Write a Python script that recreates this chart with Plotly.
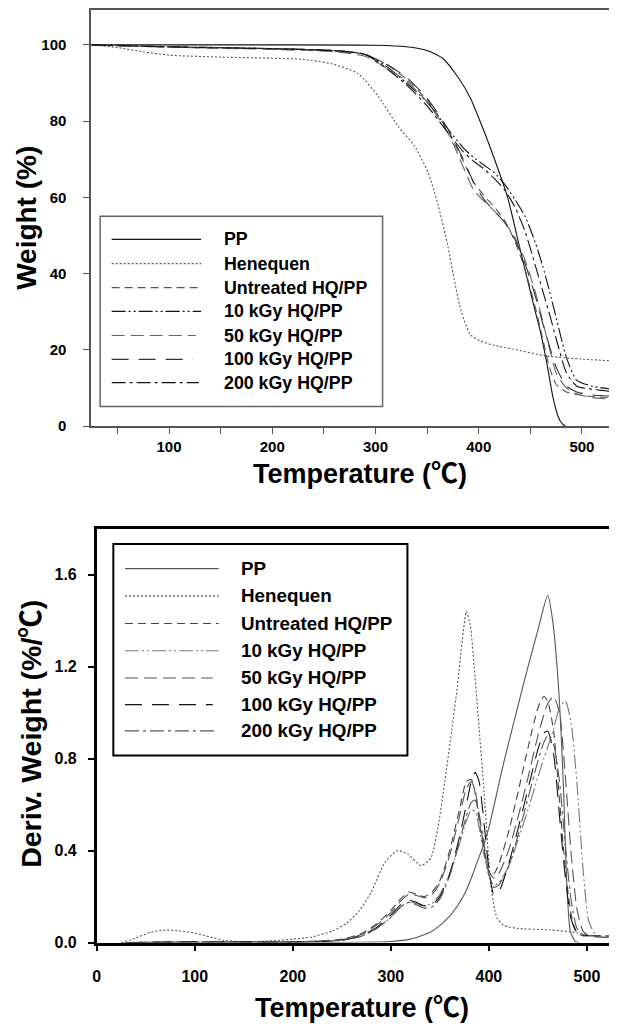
import plotly.graph_objects as go

W_FIG, H_FIG = 617, 1036
PAGE_OFF = 8  # default body margin of the html page

# ---------------- DATA ----------------
series_names = ["PP", "Henequen", "Untreated HQ/PP", "10 kGy HQ/PP",
                "50 kGy HQ/PP", "100 kGy HQ/PP", "200 kGy HQ/PP"]

x_ticks_top = [50, 100, 150, 200, 250, 300, 350, 400, 450, 500]
x_ticklabels_top = ["", "100", "", "200", "", "300", "", "400", "", "500"]
y_ticks_top = [0, 20, 40, 60, 80, 100]

x_ticks_bot = [0, 100, 200, 300, 400, 500]
y_ticks_bot = [0.0, 0.4, 0.8, 1.2, 1.6]
y_ticklabels_bot = ["0.0", "0.4", "0.8", "1.2", "1.6"]

# --- TGA (weight %) ---
pp_tga_T = [25, 100, 200, 300, 330, 350, 365, 380, 392, 402, 414, 428, 440, 453, 460, 466, 472, 477, 481, 484]
pp_tga_W = [100, 100, 100, 99.9, 99.5, 98.5, 96.5, 91.5, 86, 79.5, 71, 60, 46.5, 32, 24.5, 16.5, 7.5, 2.5, 0.6, 0]

hen_tga_T = [25, 50, 75, 100, 150, 200, 230, 258, 283, 303, 322, 338, 351, 360, 370, 376, 383, 392, 402, 415, 434, 466, 500, 545]
hen_tga_W = [100, 99.3, 98.2, 97.3, 96.8, 96.5, 96.2, 95, 92.5, 86.4, 78.6, 73.4, 66.5, 58.7, 47.4, 38.8, 30.1, 24, 22.3, 21.2, 20.2, 18.4, 17.6, 16.9]

comp_tga_T = [25, 100, 200, 260, 290, 310, 330, 350, 370, 385, 395, 405, 415, 425, 435, 445, 455, 462, 468, 475, 485, 495, 510, 545]
untreated_tga_W = [100, 99.4, 99, 98.5, 97.5, 95, 91, 85.5, 77.5, 69.5, 64, 60.5, 57.5, 54, 48.5, 41, 31, 23, 16, 11, 9, 8.3, 7.8, 7.2]
k10_tga_W = [100, 99.5, 99, 98.5, 97.5, 94.5, 90, 85, 78, 73, 70.5, 68.5, 66.5, 63.5, 59.5, 55, 48, 42, 36, 28.5, 18, 12, 10.5, 9.2]
k50_tga_W = [100, 99.4, 98.8, 98.2, 97, 94, 90.5, 85, 77, 68, 62, 59, 56.5, 53.5, 49.5, 43.5, 35, 27.5, 21, 14, 10, 8.5, 7.5, 6.9]
k100_tga_W = [100, 99.5, 99, 98.5, 97.5, 95, 91.5, 86, 78, 70, 64, 59.5, 56.5, 53.5, 49, 42.5, 34, 27, 21.5, 15.5, 10.5, 9, 8.2, 7.7]
k200_tga_W = [100, 99.5, 99, 98.5, 97.5, 94, 89.5, 84, 77, 72, 69.5, 67.5, 65, 62, 57.5, 51, 42, 35.5, 30, 23, 14, 10.5, 9.7, 8.7]

# --- DTG (deriv. weight %/C) ---
pp_dtg_T = [25, 200, 300, 320, 340, 350, 360, 368, 375, 382, 388, 395, 400, 415, 435, 450, 460, 465, 471, 476, 479.5, 483, 488, 492]
pp_dtg_D = [0, 0, 0.005, 0.015, 0.045, 0.075, 0.115, 0.16, 0.21, 0.28, 0.35, 0.43, 0.5, 0.78, 1.12, 1.36, 1.51, 1.40, 1.11, 0.68, 0.25, 0.05, 0.005, 0]

hen_dtg_T = [25, 40, 55, 70, 85, 100, 115, 130, 150, 180, 200, 220, 240, 255, 268, 280, 294, 307, 317, 331, 341, 348, 355, 362, 368, 373, 377, 381, 385, 390, 395, 402, 408, 415, 429, 462, 483, 500]
hen_dtg_D = [0, 0.02, 0.045, 0.055, 0.05, 0.042, 0.025, 0.01, 0.004, 0.008, 0.015, 0.025, 0.05, 0.085, 0.14, 0.22, 0.35, 0.40, 0.385, 0.335, 0.37, 0.5, 0.7, 0.92, 1.12, 1.32, 1.44, 1.38, 1.2, 0.93, 0.66, 0.25, 0.11, 0.075, 0.062, 0.055, 0.047, 0.035]

comp_dtg_T = [30, 100, 200, 250, 270, 285, 300, 310, 318, 326, 334, 342, 350, 360, 370, 377, 382, 386, 390, 395, 400, 405, 410, 420, 430, 440, 450, 456, 460, 466, 472, 478, 484, 490, 496, 502, 510, 545]
untreated_dtg_D = [0, 0.005, 0.003, 0.015, 0.04, 0.08, 0.14, 0.19, 0.22, 0.21, 0.2, 0.22, 0.27, 0.40, 0.58, 0.70, 0.71, 0.65, 0.53, 0.40, 0.31, 0.30, 0.34, 0.48, 0.66, 0.85, 1.02, 1.07, 1.05, 0.92, 0.62, 0.32, 0.12, 0.04, 0.03, 0.03, 0.03, 0.028]
k10_dtg_D = [0, 0.003, 0.003, 0.01, 0.03, 0.06, 0.11, 0.155, 0.175, 0.17, 0.16, 0.17, 0.21, 0.30, 0.43, 0.53, 0.575, 0.57, 0.50, 0.38, 0.29, 0.25, 0.26, 0.33, 0.45, 0.58, 0.72, 0.80, 0.85, 0.93, 1.02, 1.05, 0.95, 0.68, 0.32, 0.09, 0.03, 0.02]
k50_dtg_D = [0, 0.003, 0.003, 0.012, 0.035, 0.075, 0.13, 0.18, 0.21, 0.205, 0.195, 0.21, 0.26, 0.38, 0.55, 0.67, 0.70, 0.66, 0.55, 0.41, 0.31, 0.28, 0.30, 0.40, 0.55, 0.72, 0.90, 0.99, 1.04, 1.07, 1.0, 0.72, 0.38, 0.14, 0.05, 0.03, 0.025, 0.022]
k100_dtg_D = [0, 0.004, 0.003, 0.01, 0.03, 0.065, 0.12, 0.165, 0.185, 0.175, 0.16, 0.165, 0.2, 0.30, 0.46, 0.60, 0.70, 0.74, 0.70, 0.52, 0.32, 0.21, 0.22, 0.34, 0.50, 0.67, 0.84, 0.91, 0.92, 0.82, 0.55, 0.28, 0.10, 0.04, 0.03, 0.03, 0.03, 0.03]
k200_dtg_D = [0, 0.003, 0.003, 0.01, 0.028, 0.06, 0.11, 0.155, 0.175, 0.165, 0.15, 0.155, 0.19, 0.29, 0.44, 0.55, 0.61, 0.62, 0.56, 0.43, 0.30, 0.24, 0.25, 0.33, 0.47, 0.63, 0.79, 0.87, 0.90, 0.86, 0.70, 0.42, 0.18, 0.06, 0.035, 0.03, 0.03, 0.02]

# ---------------- STYLES ----------------
dashes = ["solid", "2px,2px", "8px,5px", "14px,3px,2px,3px,2px,3px", "13px,6px", "17px,10px", "14px,4px,3px,4px"]
colors_top = ["#111111", "#555555", "#555555", "#111111", "#666666", "#333333", "#111111"]
colors_bot = ["#555555", "#555555", "#444444", "#777777", "#555555", "#111111", "#555555"]

FONT = "Liberation Sans, Arial, Noto Sans CJK KR, sans-serif"

top_sets = [(pp_tga_T, pp_tga_W), (hen_tga_T, hen_tga_W), (comp_tga_T, untreated_tga_W),
            (comp_tga_T, k10_tga_W), (comp_tga_T, k50_tga_W), (comp_tga_T, k100_tga_W),
            (comp_tga_T, k200_tga_W)]
bot_sets = [(pp_dtg_T, pp_dtg_D), (hen_dtg_T, hen_dtg_D), (comp_dtg_T, untreated_dtg_D),
            (comp_dtg_T, k10_dtg_D), (comp_dtg_T, k50_dtg_D), (comp_dtg_T, k100_dtg_D),
            (comp_dtg_T, k200_dtg_D)]

fig = go.Figure()
for i, (xs, ys) in enumerate(top_sets):
    fig.add_trace(go.Scatter(x=xs, y=ys, mode="lines", name=series_names[i],
                             line=dict(color=colors_top[i], width=1.1, dash=dashes[i],
                                       shape="spline", smoothing=0.6),
                             xaxis="x", yaxis="y", showlegend=False, hoverinfo="skip"))
for i, (xs, ys) in enumerate(bot_sets):
    fig.add_trace(go.Scatter(x=xs, y=ys, mode="lines", name=series_names[i],
                             line=dict(color=colors_bot[i], width=1.1, dash=dashes[i],
                                       shape="spline", smoothing=0.6),
                             xaxis="x2", yaxis="y2", showlegend=False, hoverinfo="skip"))


def px_x(p):
    return (p - PAGE_OFF) / W_FIG


def px_y(p):
    return 1 - (p - PAGE_OFF) / H_FIG


tick_font_top = dict(family=FONT, size=15, color="#000000", weight="bold")
tick_font_bot = dict(family=FONT, size=16, color="#000000", weight="bold")

fig.update_layout(
    width=W_FIG, height=H_FIG,
    margin=dict(l=0, r=0, t=0, b=0),
    paper_bgcolor="white", plot_bgcolor="white",
    xaxis=dict(domain=[px_x(87.7), 1], anchor="y", range=[24.6, 541.7],
               tickmode="array", tickvals=x_ticks_top, ticktext=x_ticklabels_top,
               ticks="outside", ticklen=6, tickwidth=1.3, tickcolor="#555555",
               showline=True, linecolor="#555555", linewidth=1.6, mirror=True,
               showgrid=False, zeroline=False, tickfont=tick_font_top,
               ticklabelstandoff=0),
    yaxis=dict(domain=[px_y(429.3), px_y(8.8)], anchor="x", range=[0, 109.2],
               tickmode="array", tickvals=y_ticks_top,
               ticks="outside", ticklen=6, tickwidth=1.3, tickcolor="#555555",
               showline=True, linecolor="#555555", linewidth=1.6, mirror=False,
               showgrid=False, zeroline=False, tickfont=tick_font_top,
               ticklabelstandoff=14),
    xaxis2=dict(domain=[px_x(93.3), 1], anchor="y2", range=[0, 538.8],
                tickmode="array", tickvals=x_ticks_bot,
                ticks="outside", ticklen=6, tickwidth=1.5, tickcolor="#000000",
                showline=True, linecolor="#000000", linewidth=2.6, mirror=True,
                showgrid=False, zeroline=False, tickfont=tick_font_bot,
                ticklabelstandoff=11),
    yaxis2=dict(domain=[px_y(950.7), px_y(532.7)], anchor="x2", range=[0, 1.8],
                tickmode="array", tickvals=y_ticks_bot, ticktext=y_ticklabels_bot,
                ticks="outside", ticklen=6, tickwidth=1.5, tickcolor="#000000",
                showline=True, linecolor="#000000", linewidth=2.6, mirror=False,
                showgrid=False, zeroline=False, tickfont=tick_font_bot,
                ticklabelstandoff=8),
)

shapes = []
annotations = []

# Axis titles
annotations.append(dict(text="<b>Weight (%)</b>", x=px_x(23), y=px_y(219), xref="paper", yref="paper",
                        textangle=-90, showarrow=False, xanchor="center", yanchor="middle",
                        font=dict(family=FONT, size=28, color="#000000")))
annotations.append(dict(text="<b>Temperature (℃)</b>", x=px_x(358), y=px_y(478), xref="paper", yref="paper",
                        showarrow=False, xanchor="center", yanchor="middle",
                        font=dict(family=FONT, size=27, color="#000000")))
annotations.append(dict(text="<b>Deriv. Weight (%/℃)</b>", x=px_x(27), y=px_y(740), xref="paper", yref="paper",
                        textangle=-90, showarrow=False, xanchor="center", yanchor="middle",
                        font=dict(family=FONT, size=28.5, color="#000000")))
annotations.append(dict(text="<b>Temperature (℃)</b>", x=px_x(360), y=px_y(1017), xref="paper", yref="paper",
                        showarrow=False, xanchor="center", yanchor="middle",
                        font=dict(family=FONT, size=27, color="#000000")))


# Legends (drawn as boxes, sample lines and text)
def add_legend(box, x0, x1s, tx, rows, colors, fsize, bcolor, bwidth):
    shapes.append(dict(type="rect", xref="paper", yref="paper",
                       x0=px_x(box[0]), x1=px_x(box[1]), y0=px_y(box[3]), y1=px_y(box[2]),
                       line=dict(color=bcolor, width=bwidth), fillcolor="white", layer="above"))
    for i, name in enumerate(series_names):
        shapes.append(dict(type="line", xref="paper", yref="paper",
                           x0=px_x(x0), x1=px_x(x1s[i]), y0=px_y(rows[i]), y1=px_y(rows[i]),
                           line=dict(color=colors[i], width=1.2, dash=dashes[i]), layer="above"))
        annotations.append(dict(text="<b>" + name + "</b>", x=px_x(tx), y=px_y(rows[i]),
                                xref="paper", yref="paper", showarrow=False,
                                xanchor="left", yanchor="middle",
                                font=dict(family=FONT, size=fsize, color="#000000")))


add_legend((96.7, 381, 217.3, 409.3), 108.3,
           [198.3, 198.3, 198.3, 198.3, 193, 190, 196], 219.5,
           [240.7, 265.2, 289.3, 313.3, 337.7, 361.7, 385.3],
           colors_top, 17.8, "#666666", 1.5)
add_legend((110, 406, 548.3, 761.7), 121.7,
           [216, 216, 216, 216, 210, 210, 212], 236,
           [573, 600.5, 628.5, 656, 683.5, 710.5, 737],
           colors_bot, 18.8, "#000000", 2)

fig.update_layout(shapes=shapes, annotations=annotations)

fig.write_html("out.html")
